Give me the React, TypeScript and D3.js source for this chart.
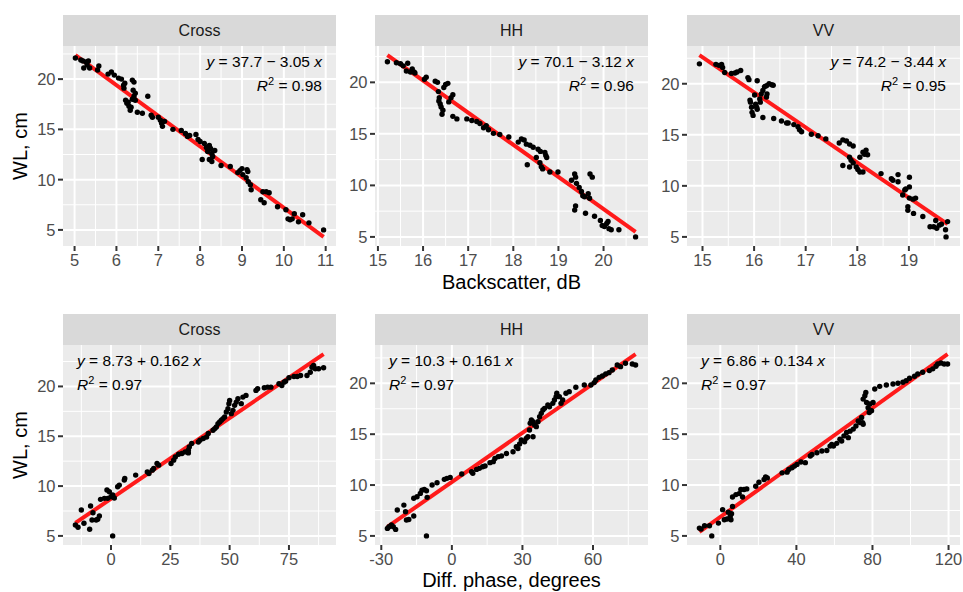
import React from 'react';
import * as d3 from 'd3';

// WL (cm) against backscatter (dB), one row per point: [x, WL]
const crossBackscatter: [number, number][] = [
  [5.02, 22.1], [5.15, 21.9], [5.2, 21.8], [5.22, 21.1], [5.28, 21.7], [5.33, 21.8], [5.36, 21.1], [5.3, 21.4],
  [5.55, 20.9], [5.58, 21.3], [5.8, 20.5], [5.88, 20.7], [5.95, 20.4], [6.05, 20.1], [6.12, 20.0], [6.17, 19.4],
  [6.18, 19.1], [6.2, 19.6], [6.22, 17.9], [6.25, 17.6], [6.28, 17.7], [6.3, 17.3], [6.33, 16.9], [6.35, 17.2],
  [6.38, 19.9], [6.42, 19.7], [6.4, 18.9], [6.45, 18.6], [6.42, 18.3], [6.38, 18.0], [6.45, 17.9], [6.5, 16.7],
  [6.62, 16.6], [6.75, 18.3], [6.83, 16.4], [6.86, 16.2], [7.0, 16.2], [7.05, 15.9], [7.08, 15.6], [7.1, 15.3],
  [7.15, 15.8], [7.35, 15.0], [7.55, 14.9], [7.65, 14.6], [7.7, 14.3], [7.75, 14.4], [7.9, 14.5], [7.95, 14.0],
  [8.0, 13.8], [8.1, 13.6], [8.15, 13.2], [8.18, 12.8], [8.05, 12.0], [8.22, 13.4], [8.25, 13.1], [8.28, 12.6],
  [8.3, 12.3], [8.22, 12.0], [8.28, 11.8], [8.35, 12.9], [8.5, 11.4], [8.72, 11.3], [8.9, 10.7], [8.95, 10.9],
  [9.0, 11.1], [9.02, 10.5], [9.1, 10.2], [9.12, 11.0], [9.14, 10.8], [9.15, 9.8], [9.2, 9.5], [9.22, 9.0],
  [9.5, 8.8], [9.58, 8.8], [9.65, 8.7], [9.45, 8.0], [9.53, 7.7], [9.85, 7.3], [10.05, 7.0], [10.1, 6.1],
  [10.15, 6.0], [10.2, 6.1], [10.25, 6.6], [10.35, 5.8], [10.45, 6.5], [10.6, 5.7], [10.95, 5.0],
];

const hhBackscatter: [number, number][] = [
  [15.21, 22.0], [15.41, 21.9], [15.5, 21.8], [15.56, 21.6], [15.66, 21.85], [15.63, 21.1], [15.72, 21.0], [15.76, 21.3],
  [15.8, 21.0], [15.82, 20.9], [16.03, 20.3], [16.07, 20.5], [16.27, 20.1], [16.32, 20.0], [16.34, 19.1], [16.36, 18.5],
  [16.35, 18.2], [16.38, 17.9], [16.4, 17.6], [16.42, 16.9], [16.44, 17.3], [16.46, 19.5], [16.5, 19.8], [16.55, 19.9],
  [16.57, 18.1], [16.62, 18.5], [16.66, 18.8], [16.66, 16.7], [16.75, 16.45], [16.97, 16.45], [17.08, 16.3], [17.19, 16.2],
  [17.26, 16.0], [17.34, 15.6], [17.4, 15.8], [17.45, 15.4], [17.56, 15.05], [17.7, 14.95], [17.9, 14.7], [18.11, 14.2],
  [18.18, 14.5], [18.24, 14.4], [18.29, 14.0], [18.37, 13.9], [18.44, 13.7], [18.55, 13.5], [18.6, 13.3], [18.31, 12.0],
  [18.51, 12.7], [18.59, 12.2], [18.62, 11.8], [18.65, 11.6], [18.7, 13.2], [18.72, 12.9], [18.74, 12.7], [18.81, 11.3],
  [18.99, 11.3], [19.29, 10.5], [19.36, 11.1], [19.38, 10.8], [19.4, 10.2], [19.36, 7.6], [19.38, 8.0], [19.46, 9.8],
  [19.51, 9.4], [19.54, 9.0], [19.58, 8.9], [19.66, 9.2], [19.69, 8.75], [19.6, 7.3], [19.7, 11.1], [19.75, 10.8],
  [19.8, 7.0], [19.93, 6.6], [19.97, 6.1], [20.02, 6.0], [20.07, 6.3], [20.1, 6.5], [20.12, 5.8], [20.17, 5.7],
  [20.34, 5.7], [20.71, 5.0],
];

const vvBackscatter: [number, number][] = [
  [14.94, 21.95], [15.26, 21.9], [15.32, 21.8], [15.37, 21.9], [15.39, 21.6], [15.43, 21.1], [15.56, 21.0], [15.63, 21.05],
  [15.67, 21.15], [15.74, 21.3], [15.88, 20.6], [15.9, 20.4], [15.92, 18.4], [15.93, 18.2], [15.95, 17.7], [15.96, 17.2],
  [15.98, 16.9], [16.01, 18.9], [16.03, 18.0], [16.05, 17.7], [16.06, 17.5], [16.06, 20.3], [16.11, 18.5], [16.12, 18.2],
  [16.14, 19.0], [16.17, 19.35], [16.2, 19.7], [16.17, 16.7], [16.24, 18.7], [16.25, 19.0], [16.24, 19.8], [16.29, 20.0],
  [16.34, 19.9], [16.37, 19.85], [16.38, 16.6], [16.53, 16.35], [16.63, 16.15], [16.66, 16.15], [16.77, 16.0], [16.85, 15.8],
  [16.88, 15.5], [16.92, 15.3], [17.11, 15.05], [17.24, 14.9], [17.39, 14.6], [17.65, 14.2], [17.72, 14.5], [17.79, 14.4],
  [17.85, 14.1], [17.92, 13.9], [17.72, 12.0], [17.85, 12.8], [17.88, 12.5], [17.92, 12.25], [17.98, 11.85], [18.01, 11.6],
  [18.05, 11.35], [17.85, 11.85], [18.05, 12.8], [18.11, 13.3], [18.14, 13.1], [18.17, 13.5], [18.2, 13.05], [18.11, 11.35],
  [18.46, 11.2], [18.66, 10.7], [18.69, 10.55], [18.79, 11.1], [18.79, 10.4], [18.88, 9.1], [18.92, 9.6], [18.94, 9.7],
  [19.01, 10.85], [19.01, 9.9], [18.98, 7.95], [18.98, 7.6], [19.01, 8.8], [19.08, 8.7], [19.13, 8.8], [19.09, 7.3],
  [19.27, 7.0], [19.41, 6.0], [19.48, 6.0], [19.52, 6.6], [19.54, 5.85], [19.59, 6.15], [19.63, 6.25], [19.71, 5.7],
  [19.72, 5.0], [19.75, 6.5],
];

// WL (cm) against differential phase (degrees)
const crossPhase: [number, number][] = [
  [-15, 6.1], [-13.9, 5.87], [-12.5, 7.6], [-11.4, 6.27], [-9.0, 5.67], [-8.6, 8.0], [-7.6, 7.33], [-8, 6.6],
  [-6.25, 6.6], [-5.6, 6.67], [-4.9, 7.0], [-4.4, 8.67], [-2.8, 8.77], [-1.7, 9.6], [-1.4, 8.77], [-0.7, 9.43],
  [0, 8.93], [0.7, 9.1], [0.7, 5.0], [1.4, 8.8], [2.8, 9.93], [3.5, 10.1], [5.6, 10.6], [5.8, 10.77],
  [10.4, 11.1], [15.3, 11.43], [16, 11.27], [17.4, 11.6], [18, 11.77], [19.4, 12.27], [20.1, 12.1], [25.3, 12.27],
  [26.4, 12.6], [27.1, 12.93], [28.5, 13.2], [29.9, 13.27], [31.25, 13.43], [32.6, 13.6], [33, 13.93], [34, 14.27],
  [32.6, 13.33], [36.8, 14.43], [37.5, 14.6], [38.9, 14.77], [40.3, 14.93], [41, 15.27], [43, 15.6], [43.75, 15.77],
  [44.4, 15.93], [45.1, 16.27], [45.8, 16.43], [46.5, 16.6], [47.2, 16.77], [47.9, 16.93], [48.6, 17.43], [49.3, 17.77],
  [49.7, 18.27], [50, 18.6], [50.7, 17.27], [51.4, 17.6], [52.1, 18.1], [52.8, 18.43], [53.5, 18.77], [54.9, 18.27],
  [55.6, 18.93], [56.9, 19.1], [61.1, 19.6], [61.8, 19.77], [64.6, 19.87], [66, 19.93], [67.4, 19.93], [70.8, 20.27],
  [72, 20.1], [72.9, 20.43], [73.6, 20.53], [75, 20.87], [77.1, 21.0], [78.5, 21.0], [79.9, 21.1], [82.6, 21.1],
  [84, 21.43], [84.7, 21.93], [85.4, 22.1], [86.1, 21.77], [87.5, 21.77], [89.6, 21.87],
];

const hhPhase: [number, number][] = [
  [-27.4, 5.74], [-26.7, 5.9], [-25.7, 6.07], [-24.9, 5.9], [-23.9, 5.64], [-23.2, 7.54], [-20.4, 8.03], [-19.7, 7.38],
  [-19.3, 6.56], [-18.3, 6.62], [-16.2, 6.95], [-16.2, 8.7], [-14.8, 8.85], [-13.4, 9.18], [-12.7, 9.5], [-11.7, 9.57],
  [-10.8, 9.44], [-10.5, 8.79], [-10.8, 5.0], [-8.4, 10.0], [-6.3, 10.23], [-3.2, 10.56], [-2.1, 10.66], [-0.7, 10.75],
  [4.2, 11.08], [8.4, 11.3], [8.9, 11.15], [10.5, 11.54], [11.7, 11.64], [13.1, 11.8], [14.1, 11.87], [16.2, 12.2],
  [17.6, 12.3], [18.3, 12.62], [19.7, 12.79], [21.1, 12.85], [23.2, 13.1], [26, 13.28], [27.4, 13.77], [28.1, 13.6],
  [28.8, 14.03], [29.5, 14.43], [30.9, 14.26], [31.6, 14.59], [32.3, 14.75], [33, 15.41], [33.3, 16.07], [33.8, 16.4],
  [34.5, 16.23], [35.2, 15.9], [35.9, 15.74], [36.6, 16.23], [34.5, 14.75], [37.3, 16.72], [38, 17.05], [38.7, 17.38],
  [39.4, 17.54], [40.8, 17.87], [41.5, 17.7], [42.9, 18.03], [43.6, 18.36], [44.3, 18.69], [44.6, 19.02], [45.7, 18.69],
  [46.4, 18.03], [47.1, 18.36], [48.5, 19.02], [49.9, 19.18], [52.7, 19.61], [56.3, 19.84], [59.1, 19.84], [60.5, 20.07],
  [61.2, 20.33], [62.6, 20.59], [64, 20.72], [65.4, 20.92], [66.8, 21.05], [68.2, 21.31], [70.3, 21.8], [71.7, 21.64],
  [73.8, 21.97], [76.7, 21.9], [78.1, 21.8],
];

const vvPhase: [number, number][] = [
  [-11, 5.77], [-10.1, 5.67], [-8.3, 6.0], [-5.7, 6.0], [-4.5, 5.0], [-1, 6.26], [1.2, 7.58], [2.1, 6.59],
  [3.5, 6.66], [4.2, 7.32], [5.2, 6.92], [5.9, 7.18], [6.4, 7.9], [5.6, 6.59], [6.4, 8.83], [8.2, 9.06],
  [9.9, 9.16], [10.8, 9.56], [11.7, 8.83], [12.5, 9.56], [13.9, 9.62], [18.6, 9.88], [20.3, 10.28], [23, 10.54],
  [23.8, 10.8], [24.7, 10.7], [32.5, 11.2], [35.1, 11.27], [36, 11.53], [37.7, 11.7], [39, 11.86], [40.3, 12.03],
  [42.4, 12.26], [44.7, 12.2], [47.3, 12.85], [48.2, 13.0], [50.8, 13.18], [53.4, 13.34], [56, 13.4], [57.7, 13.83],
  [58.6, 14.0], [59.5, 13.83], [61.2, 14.1], [62.9, 14.5], [63.8, 14.33], [65, 14.83], [66.4, 15.16], [67.3, 14.66],
  [68.2, 15.3], [69.9, 15.5], [71.3, 15.8], [72.5, 16.3], [73.4, 16.14], [74.3, 16.64], [74.8, 16.14], [75.1, 15.98],
  [75.1, 18.45], [76, 18.78], [76.5, 19.1], [76.9, 18.12], [77.7, 17.6], [78.6, 17.96], [80.3, 18.12], [78.3, 17.13],
  [79.5, 17.3], [81.2, 19.44], [83.8, 19.7], [87.3, 19.84], [90.8, 19.93], [93.4, 20.0], [96, 20.1], [97.7, 20.26],
  [99.5, 20.5], [102.1, 20.7], [103.8, 20.92], [106.4, 21.09], [109.9, 21.25], [111.7, 21.42], [113.4, 21.68], [114.3, 21.9],
  [116, 22.0], [117.7, 21.9], [119.5, 21.9],
];

const facetNames = ['Cross', 'HH', 'VV'];
const intercepts = [37.7, 70.1, 74.2, 8.73, 10.3, 6.86];
const slopes = [-3.05, -3.12, -3.44, 0.162, 0.161, 0.134];
const rSquared = ['0.98', '0.96', '0.95', '0.97', '0.97', '0.97'];

const xTicks = [
  [5, 6, 7, 8, 9, 10, 11],
  [15, 16, 17, 18, 19, 20],
  [15, 16, 17, 18, 19],
  [0, 25, 50, 75],
  [-30, 0, 30, 60],
  [0, 40, 80, 120],
];
const yTicks = [5, 10, 15, 20];
const xTitles = ['Backscatter, dB', 'Diff. phase, degrees'];
const yTitle = 'WL, cm';

const pointSets = [crossBackscatter, hhBackscatter, vvBackscatter, crossPhase, hhPhase, vvPhase];

const W = 963;
const H = 592;
const FONT = '"Liberation Sans", Arial, sans-serif';
const panelLefts = [63, 375, 687];
const panelW = 273;
const rows = [
  { stripTop: 15, top: 46, bottom: 246 },
  { stripTop: 314, top: 345, bottom: 545 },
];

function expand([a, b]: number[]) {
  const d = (b - a) * 0.05;
  return [a - d, b + d];
}

function minorOf(major: number[], domain: number[]) {
  const step = major[1] - major[0];
  const out: number[] = [];
  for (let v = major[0] - step / 2; v <= major[major.length - 1] + step; v += step) {
    if (v >= domain[0] && v <= domain[1]) out.push(v);
  }
  return out;
}

function Panel({ i }: { i: number }) {
  const row = rows[Math.floor(i / 3)];
  const left = panelLefts[i % 3];
  const right = left + panelW;
  const pts = pointSets[i];
  const a = intercepts[i];
  const b = slopes[i];
  const fit = (x: number) => a + b * x;

  const xExt = d3.extent(pts, (d) => d[0]) as [number, number];
  const yAll = pts.map((d) => d[1]).concat([fit(xExt[0]), fit(xExt[1])]);
  const xDom = expand(xExt);
  const yDom = expand(d3.extent(yAll) as [number, number]);
  const x = d3.scaleLinear().domain(xDom).range([left, right]);
  const y = d3.scaleLinear().domain(yDom).range([row.bottom, row.top]);

  const xt = xTicks[i];
  const xMinor = minorOf(xt, xDom);
  const yMinor = minorOf(yTicks, yDom);

  const line = d3.line<number>().x((v) => x(v)).y((v) => y(fit(v)));
  const top = i < 3;
  const eq = `= ${a} ${b < 0 ? '\u2212' : '+'} ${Math.abs(b)} `;
  const eqX = top ? right - 14 : left + 14;
  const anchor = top ? 'end' : 'start';
  const eqY1 = row.top + (top ? 21 : 21);

  return (
    <g>
      <rect x={left} y={row.stripTop} width={panelW} height={row.top - row.stripTop} fill="#D9D9D9" />
      <text x={left + panelW / 2} y={(row.stripTop + row.top) / 2 + 5.5} textAnchor="middle" fontSize={16} fill="#1A1A1A">
        {facetNames[i % 3]}
      </text>
      <rect x={left} y={row.top} width={panelW} height={row.bottom - row.top} fill="#EBEBEB" />
      {xMinor.map((v) => (
        <line key={'xm' + v} x1={x(v)} x2={x(v)} y1={row.top} y2={row.bottom} stroke="#fff" strokeWidth={1} />
      ))}
      {yMinor.map((v) => (
        <line key={'ym' + v} x1={left} x2={right} y1={y(v)} y2={y(v)} stroke="#fff" strokeWidth={1} />
      ))}
      {xt.map((v) => (
        <line key={'xg' + v} x1={x(v)} x2={x(v)} y1={row.top} y2={row.bottom} stroke="#fff" strokeWidth={2} />
      ))}
      {yTicks.map((v) => (
        <line key={'yg' + v} x1={left} x2={right} y1={y(v)} y2={y(v)} stroke="#fff" strokeWidth={2} />
      ))}
      <path d={line(xExt) || ''} fill="none" stroke="#FF1A1A" strokeWidth={4} />
      {pts.map((d, k) => (
        <circle key={k} cx={x(d[0])} cy={y(d[1])} r={2.7} fill="#000" />
      ))}
      {xt.map((v) => (
        <g key={'xt' + v}>
          <line x1={x(v)} x2={x(v)} y1={row.bottom} y2={row.bottom + 5} stroke="#333" strokeWidth={2} />
          <text x={x(v)} y={row.bottom + 20} textAnchor="middle" fontSize={16.5} fill="#4D4D4D">
            {v < 0 ? '-' + Math.abs(v) : v}
          </text>
        </g>
      ))}
      {yTicks.map((v) => (
        <g key={'yt' + v}>
          <line x1={left - 5} x2={left} y1={y(v)} y2={y(v)} stroke="#333" strokeWidth={2} />
          <text x={left - 7.5} y={y(v) + 6} textAnchor="end" fontSize={16.5} fill="#4D4D4D">
            {v}
          </text>
        </g>
      ))}
      <text x={eqX} y={eqY1} textAnchor={anchor} fontSize={15.5} fill="#000" xmlSpace="preserve">
        <tspan fontStyle="italic">y</tspan>
        <tspan>{' ' + eq}</tspan>
        <tspan fontStyle="italic">x</tspan>
      </text>
      <text x={eqX} y={eqY1 + 24} textAnchor={anchor} fontSize={15.5} fill="#000" xmlSpace="preserve">
        <tspan fontStyle="italic">R</tspan>
        <tspan fontSize={11} dy={-6.5}>2</tspan>
        <tspan dy={6.5}>{' = ' + rSquared[i]}</tspan>
      </text>
    </g>
  );
}

export default function App() {
  const mid = (panelLefts[0] + panelLefts[2] + panelW) / 2;
  return (
    <svg
      width={W}
      height={H}
      style={{ position: 'absolute', left: 0, top: 0, background: '#fff' }}
      fontFamily={FONT}
    >
      <rect width={W} height={H} fill="#fff" />
      {d3.range(6).map((i) => (
        <Panel key={i} i={i} />
      ))}
      <text x={mid} y={289} textAnchor="middle" fontSize={20} fill="#000">
        {xTitles[0]}
      </text>
      <text x={mid} y={587} textAnchor="middle" fontSize={20} fill="#000">
        {xTitles[1]}
      </text>
      {rows.map((r, k) => (
        <text
          key={k}
          transform={`translate(27,${(r.top + r.bottom) / 2}) rotate(-90)`}
          textAnchor="middle"
          fontSize={20}
          fill="#000"
        >
          {yTitle}
        </text>
      ))}
    </svg>
  );
}
